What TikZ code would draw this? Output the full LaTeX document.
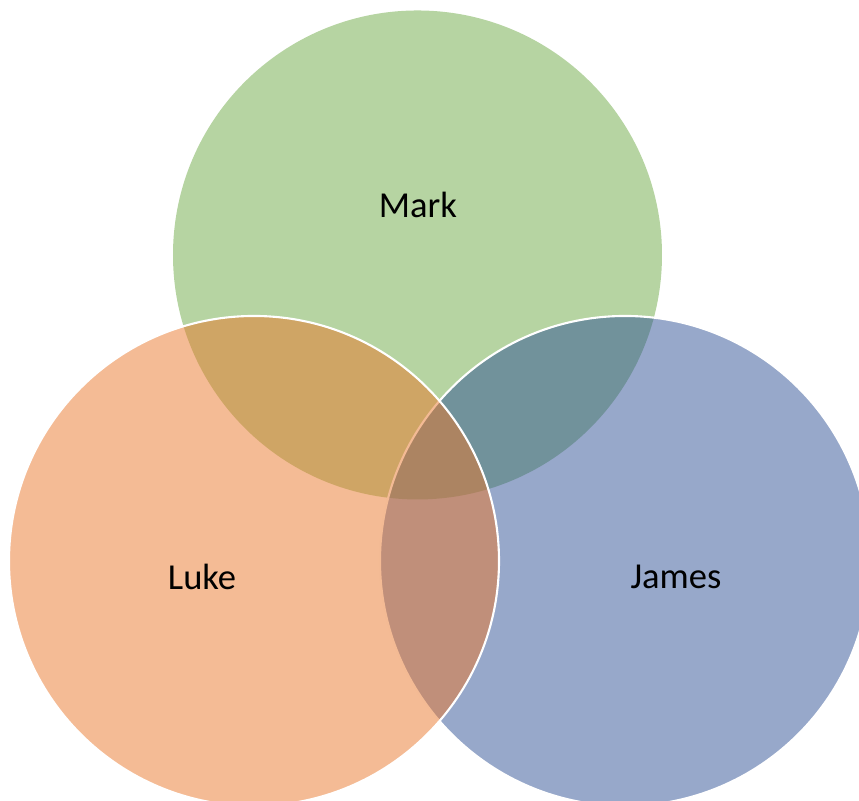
\documentclass[tikz,border=0pt]{standalone}
\usepackage{fontspec}
\setmainfont{Carlito}
\usepackage{xcolor}
\definecolor{markgreen}{HTML}{6DA945}
\definecolor{lukeorange}{HTML}{E9772B}
\definecolor{jamesblue}{HTML}{2F5195}
\tikzset{
  vennset/.style={fill opacity=0.5, draw=white, line width=0.6pt},
  setname/.style={font=\fontsize{10.4}{12}\selectfont, text=black, inner sep=0pt}
}

\begin{document}
\begin{tikzpicture}
  \useasboundingbox (0,0) rectangle (8.59,8.01);
  \fill[vennset, fill=markgreen, draw=none] (4.175,5.46) circle (2.445);
  \draw[vennset, fill=jamesblue] (6.25,2.40) circle (2.45);
  \draw[vennset, fill=lukeorange] (2.54,2.40) circle (2.45);
  \node[setname] (mark) at (4.18,5.96) {Mark};
  \node[setname] (luke) at (2.02,2.24) {Luke};
  \node[setname] (james) at (6.76,2.24) {James};
\end{tikzpicture}
\end{document}
